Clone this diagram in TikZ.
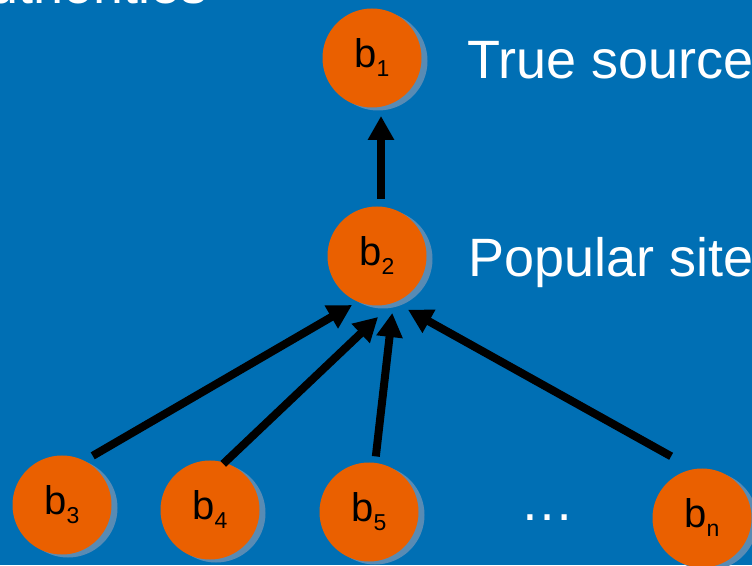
\documentclass[tikz,border=0pt]{standalone}
\usepackage{fontspec}
\setmainfont{Liberation Sans}
\usetikzlibrary{arrows.meta,calc}
\definecolor{bgblue}{RGB}{0,111,180}
\definecolor{nodeorange}{RGB}{234,96,0}
\definecolor{shadowblue}{RGB}{88,139,180}
\newcommand{\blab}[1]{\fontsize{40}{40}\selectfont b\raisebox{-9pt}{\fontsize{23}{23}\selectfont #1}}
\tikzset{
  site/.style={circle,fill=nodeorange,minimum size=99pt,inner sep=0pt,outer sep=0pt,text=black},
  sitesh/.style={circle,fill=shadowblue,minimum size=99pt,inner sep=0pt,outer sep=0pt},
  link/.style={line width=8pt,draw=black,-{Triangle[length=24pt,width=25pt]}},
  lbl/.style={text=white,font=\fontsize{54}{54}\selectfont,anchor=base west,inner sep=0pt}
}
\begin{document}
\begin{tikzpicture}[x=1pt,y=1pt]
\fill[bgblue] (0,0) rectangle (752,565);
\useasboundingbox (0,0) rectangle (752,565);
% title (cut off at top)
\node[text=white,font=\fontsize{54}{54}\selectfont,anchor=base east,inner sep=0pt] (title) at (208,561.5) {Authorities};
% shadows
\foreach \x/\y in {372/507,377/309,62/60,210/55,369/53,702/47}
  \node[sitesh] at (\x+6,\y-3) {};
% nodes
\node[site] (b1) at (372,507) {\blab{1}};
\node[site] (b2) at (377,309) {\blab{2}};
\node[site] (b3) at (62,60) {\blab{3}};
\node[site] (b4) at (210,55) {\blab{4}};
\node[site] (b5) at (369,53) {\blab{5}};
\node[site] (bn) at (702,47) {\blab{n}};
\node[text=white,font=\fontsize{54}{54}\selectfont,inner sep=0pt,anchor=base] (dots) at (547,45) {…};
% labels
\node[lbl] (l1) at (467,486) {True source};
\node[lbl] (l2) at (468,288) {Popular site};
% arrows
\draw[link] ($(b2.center)+(4pt,57pt)$) -- ($(b1.center)+(9pt,-58pt)$);
\draw[link] ($(b3.center)+(58:58pt)$) -- ($(b2.center)+(243:55pt)$);
\draw[link] ($(b4.center)+(74:48pt)$) -- ($(b2.center)+(271:61pt)$);
\draw[link] ($(b5.center)+(83:56pt)$) -- ($(b2.center)+(285:59pt)$);
\draw[link] ($(bn.center)+(116.6:69pt)$) -- ($(b2.center)+(300:62pt)$);
\end{tikzpicture}
\end{document}
